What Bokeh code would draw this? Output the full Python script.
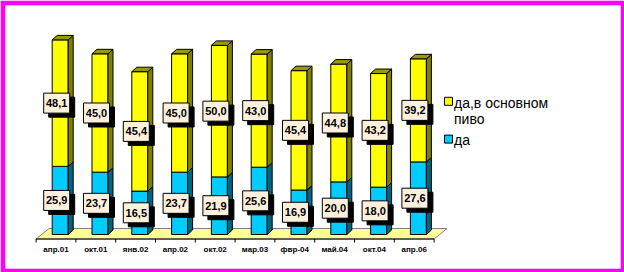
import numpy as np
from bokeh.plotting import figure
from bokeh.models import ColumnDataSource, Range1d
from bokeh.core.properties import value
from bokeh.embed import file_html
from bokeh.resources import INLINE

# ---- data ----
categories = ["апр.01", "окт.01", "янв.02", "апр.02", "окт.02",
              "мар.03", "фвр-04", "май.04", "окт.04", "апр.06"]
da = [25.9, 23.7, 16.5, 23.7, 21.9, 25.6, 16.9, 20.0, 18.0, 27.6]
da_mostly_beer = [48.1, 45.0, 45.4, 45.0, 50.0, 43.0, 45.4, 44.8, 43.2, 39.2]
series_labels = ["да,в основном\nпиво", "да"]
series_colors = ["#FFFF00", "#00CCFF"]

# ---- layout constants (pixels) ----
W, H = 624, 272
BL, BR, BT, BB = 5, 4, 5, 4
CAT_PX = 39.8     # pixels per category
CAT0 = 55.5       # pixel x of first category centre
VAL_PX = 2.63     # pixels per percent
BASE = 234        # pixel y (from top) of value 0


def dx(px):
    return px / CAT_PX


def dy(px):
    return px / VAL_PX


def px_x(px):
    return (px - CAT0) / CAT_PX


def px_y(py):
    return (BASE - py) / VAL_PX


x0 = px_x(BL)
x1 = px_x(W - BR)
y1 = px_y(BT)
y0 = px_y(H - BB)

p = figure(width=W, height=H, output_backend="svg", toolbar_location=None,
           x_range=Range1d(x0, x1), y_range=Range1d(y0, y1),
           min_border_left=BL, min_border_right=BR,
           min_border_top=BT, min_border_bottom=BB,
           border_fill_color="#FF00FF", background_fill_color="#FFFFFF",
           outline_line_color=None)
p.axis.visible = False
p.grid.visible = False

n = len(categories)
xc = np.arange(n, dtype=float)
blue = np.array(da)
yellow = np.array(da_mostly_beer)
yellow_top = blue + yellow

# floor
floor_y = dy(-4.5)
fdx, fdy = dx(13), dy(10.5)
p.patch([-0.5, n - 0.5, n - 0.5 + fdx, -0.5 + fdx],
        [floor_y, floor_y, floor_y + fdy, floor_y + fdy],
        fill_color="#FFFF99", line_color="#808080", line_width=1)
# axis line + ticks
p.segment(x0=[-0.5], y0=[floor_y], x1=[n - 0.5], y1=[floor_y],
          line_color="black", line_width=1)
bounds = np.arange(n + 1) - 0.5
p.segment(x0=bounds, y0=[floor_y] * (n + 1), x1=bounds,
          y1=[floor_y - dy(3.5)] * (n + 1), line_color="black", line_width=1)

# bars
bx = xc + dx(4.2)
bw = dx(16)
ddx, ddy = dx(5), dy(4.5)
src = ColumnDataSource(dict(x=bx, blue=blue, ytop=yellow_top))
r_blue = p.vbar(x="x", width=bw, bottom=0, top="blue", source=src,
                fill_color=series_colors[1], line_color="black", line_width=1)
r_yel = p.vbar(x="x", width=bw, bottom="blue", top="ytop", source=src,
               fill_color=series_colors[0], line_color="black", line_width=1)

xr = bx + bw / 2
xl = bx - bw / 2
side_xs = [[a, a + ddx, a + ddx, a] for a in xr]
side_b_ys = [[0, ddy, t + ddy, t] for t in blue]
p.patches(side_xs, side_b_ys, fill_color="#006680", line_color="black", line_width=1)
side_y_ys = [[b, b + ddy, t + ddy, t] for b, t in zip(blue, yellow_top)]
p.patches(side_xs, side_y_ys, fill_color="#808000", line_color="black", line_width=1)
top_xs = [[a, a + ddx, c + ddx, c] for a, c in zip(xl, xr)]
top_ys = [[t, t + ddy, t + ddy, t] for t in yellow_top]
p.patches(top_xs, top_ys, fill_color="#999900", line_color="black", line_width=1)

# data labels
lab_x = np.concatenate([xc, xc]) + dx(0.7)
lab_y = np.concatenate([blue / 2, blue + yellow / 2])
lab_t = [f"{v:.1f}".replace(".", ",") for v in list(blue) + list(yellow)]
lsrc = ColumnDataSource(dict(x=lab_x, y=lab_y, sx=lab_x + dx(5), sy=lab_y - dy(4), t=lab_t))
p.rect(x="sx", y="sy", width=26, height=20, width_units="screen", height_units="screen",
       source=lsrc, fill_color="black", line_color="black")
p.rect(x="x", y="y", width=26, height=20, width_units="screen", height_units="screen",
       source=lsrc, fill_color="#FDF0DC", line_color="black", line_width=1)
p.text(x="x", y="y", text="t", source=lsrc, text_align="center", text_baseline="middle",
       text_font=value("Liberation Sans"), text_font_style="bold",
       text_font_size="11px", text_color="black")

# category labels
p.text(x=xc, y=[px_y(249)] * n, text=categories,
       text_align="center", text_baseline="middle",
       text_font=value("Liberation Sans"), text_font_style="bold",
       text_font_size="8px", text_color="black")

# legend (drawn manually so the swatch aligns with the first label line)
sq_py = [100.8, 138.6]
mid_py = [102.0, 139.6]   # vertical middle of first text line
line_step = 16.6
for lab, col, sp, mp in zip(series_labels, series_colors, sq_py, mid_py):
    p.rect(x=[px_x(448)], y=[px_y(sp)], width=8, height=8,
           width_units="screen", height_units="screen",
           fill_color=col, line_color="black", line_width=1)
    lines = lab.split("\n")
    p.text(x=[px_x(453.5)] * len(lines),
           y=[px_y(mp + k * line_step) for k in range(len(lines))],
           text=lines, text_align="left", text_baseline="middle",
           text_font=value("Liberation Sans"), text_font_size="14px",
           text_color="black")

open("out.html", "w").write(file_html(p, INLINE))
